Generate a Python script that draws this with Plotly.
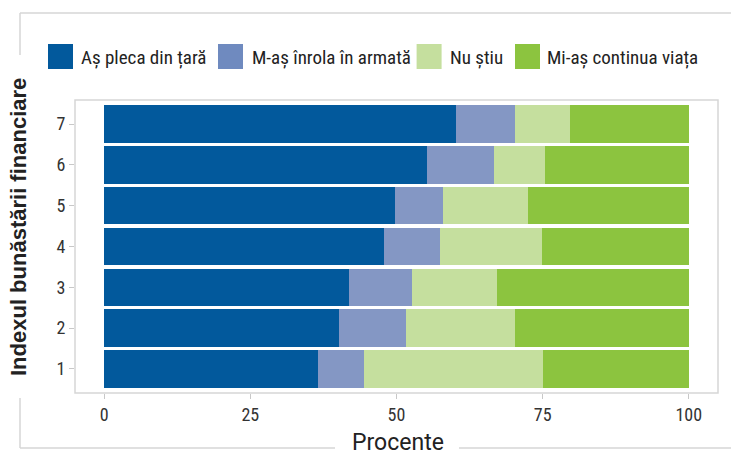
import plotly.graph_objects as go

# Financial well-being index (1 = lowest, 7 = highest)
categories = [1, 2, 3, 4, 5, 6, 7]

series_names = ["Aș pleca din țară", "M-aș înrola în armată", "Nu știu", "Mi-aș continua viața"]

leave_country = [36.6, 40.2, 41.9, 47.9, 49.8, 55.2, 60.1]
join_army = [7.8, 11.4, 10.7, 9.6, 8.2, 11.4, 10.1]
dont_know = [30.7, 18.7, 14.6, 17.4, 14.5, 8.8, 9.5]
carry_on = [24.9, 29.7, 32.8, 25.1, 27.5, 24.6, 20.3]

x_ticks = [0, 25, 50, 75, 100]
x_title = "Procente"
y_title = "Indexul bunăstării financiare"

series_values = [leave_country, join_army, dont_know, carry_on]
bar_colors = ["#02599C", "#8497C4", "#C5DF9E", "#8CC43F"]
swatch_colors = ["#02599C", "#6F8ABF", "#C5DF9E", "#8CC43F"]

W, H = 731, 457
M_L, M_R, M_T, M_B = 75, 13, 100, 64
PW, PH = W - M_L - M_R, H - M_T - M_B

def px_x(p):
    return (p - M_L) / PW

def px_y(p):
    return (H - M_B - p) / PH

narrow = "Liberation Sans Narrow, Roboto Condensed, DejaVu Sans Condensed, Roboto, sans-serif"

fig = go.Figure()
for name, vals, col in zip(series_names, series_values, bar_colors):
    fig.add_trace(go.Bar(
        x=vals, y=categories, orientation="h", name=name,
        marker=dict(color=col, line=dict(width=0)),
        width=0.92, showlegend=False,
    ))

shapes = []
annotations = []

# panel border
shapes.append(dict(type="rect", xref="paper", yref="paper", x0=0, x1=1, y0=0, y1=1,
                   line=dict(color="#D6D6D6", width=1.5), layer="above"))

# outer frame (open on the right, broken where the axis titles sit)
frame_segments = [
    ((20, 13), (760, 13)),
    ((20, 13), (20, 55)),
    ((20, 398), (20, 448)),
    ((20, 448), (335, 448)),
    ((459, 448), (760, 448)),
]
for (xa, ya), (xb, yb) in frame_segments:
    shapes.append(dict(type="line", xref="paper", yref="paper",
                       x0=px_x(xa), x1=px_x(xb), y0=px_y(ya), y1=px_y(yb),
                       line=dict(color="#D6D6D6", width=1.5)))

# legend row
swatch_x = [48, 218, 416.6, 515]
label_x = [79, 250, 448, 545]
for name, col, sx, lx in zip(series_names, swatch_colors, swatch_x, label_x):
    shapes.append(dict(type="rect", xref="paper", yref="paper",
                       x0=px_x(sx), x1=px_x(sx + 25), y0=px_y(44), y1=px_y(69),
                       fillcolor=col, line=dict(width=0)))
    annotations.append(dict(text=name, xref="paper", yref="paper", x=px_x(lx), y=px_y(57),
                            xanchor="left", yanchor="middle", showarrow=False,
                            font=dict(family=narrow, size=19, color="#222222")))

# axis titles sitting on the outer frame
annotations.append(dict(text=x_title, xref="paper", yref="paper", x=px_x(398), y=px_y(442),
                        xanchor="center", yanchor="middle", showarrow=False,
                        font=dict(family="Roboto, sans-serif", size=23, color="#222222")))
annotations.append(dict(text=y_title, xref="paper", yref="paper", x=px_x(18), y=px_y(227),
                        xanchor="center", yanchor="middle", showarrow=False, textangle=-90,
                        font=dict(family="Liberation Sans, Arial, sans-serif", size=22,
                                  color="#222222", weight="bold")))

tick_font = dict(family=narrow, size=18, color="#333333")
fig.update_layout(
    barmode="stack",
    width=W, height=H,
    margin=dict(l=M_L, r=M_R, t=M_T, b=M_B),
    paper_bgcolor="white", plot_bgcolor="white",
    shapes=shapes, annotations=annotations,
    xaxis=dict(range=[-5, 105], tickvals=x_ticks, ticks="outside", ticklen=5,
               tickcolor="#C8C8C8", tickwidth=1, showgrid=False, zeroline=False,
               showline=False, tickfont=tick_font),
    yaxis=dict(range=[0.41, 7.59], tickvals=categories, ticks="outside", ticklen=5,
               tickcolor="#C8C8C8", tickwidth=1, showgrid=False, zeroline=False,
               showline=False, tickfont=tick_font),
)

fig.write_html("out.html")
